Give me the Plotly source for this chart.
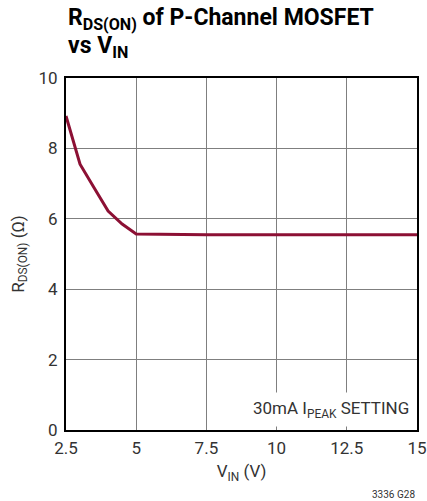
import plotly.graph_objects as go

vin = [2.5, 3.0, 3.5, 4.0, 4.5, 5.0, 7.5, 10.0, 12.5, 15.0]
rds_on = [8.92, 7.55, 6.88, 6.22, 5.85, 5.57, 5.55, 5.55, 5.55, 5.55]
x_ticks = [2.5, 5, 7.5, 10, 12.5, 15]
x_tick_text = ["2.5", "5", "7.5", "10", "12.5", "15"]
y_ticks = [0, 2, 4, 6, 8, 10]

FONT = "Roboto, Liberation Sans, sans-serif"
TXT = "#333333"
PH = 352  # plot height in px

fig = go.Figure()
fig.add_trace(go.Scatter(x=vin, y=rds_on, mode="lines",
                         line=dict(color="#8c1034", width=3), showlegend=False))

fig.update_layout(
    width=427, height=501,
    margin=dict(l=66, r=10, t=78, b=71),
    paper_bgcolor="white", plot_bgcolor="white",
    font=dict(family=FONT, color=TXT, size=17),
    xaxis=dict(range=[2.5, 15], tickvals=x_ticks, ticktext=x_tick_text,
               showgrid=True, gridcolor="#7f7f7f", gridwidth=1,
               showline=True, linecolor="black", linewidth=2, mirror=True,
               ticks="", zeroline=False, ticklabelstandoff=2, automargin=False,
               tickfont=dict(size=17, color=TXT),
               title=dict(text="V<sub>IN</sub> (V)", font=dict(size=17, color=TXT), standoff=8)),
    yaxis=dict(range=[0, 10], tickvals=y_ticks,
               showgrid=True, gridcolor="#7f7f7f", gridwidth=1,
               showline=True, linecolor="black", linewidth=2, mirror=True,
               ticks="", zeroline=False, ticklabelstandoff=3, automargin=False,
               tickfont=dict(size=17, color=TXT),
               title=dict(text="R<sub>DS(ON)</sub> (Ω)", font=dict(size=17, color=TXT), standoff=10)),
    annotations=[
        dict(text="<b>R<sub>DS(ON)</sub> of P-Channel MOSFET</b>",
             xref="paper", yref="paper", x=0, y=1 + (78 - 2) / PH,
             xanchor="left", yanchor="top", align="left", showarrow=False,
             font=dict(family=FONT, size=23, color="black")),
        dict(text="<b>vs V<sub>IN</sub></b>",
             xref="paper", yref="paper", x=0, y=1 + (78 - 30) / PH,
             xanchor="left", yanchor="top", align="left", showarrow=False,
             font=dict(family=FONT, size=23, color="black")),
        dict(text="30mA I<sub>PEAK</sub> SETTING",
             xref="paper", yref="paper", x=1.0, y=0.0, xshift=-2, yshift=3,
             xanchor="right", yanchor="bottom", showarrow=False, borderpad=5,
             bgcolor="white", font=dict(family=FONT, size=17, color=TXT)),
        dict(text="3336 G28", xref="paper", yref="paper",
             x=1.0, y=-(487 - 430) / PH, xanchor="right", yanchor="top",
             showarrow=False, font=dict(family=FONT, size=10, color=TXT)),
    ],
)

fig.write_html("out.html", config={"displayModeBar": False},
               post_script="document.body.style.margin='0';document.body.style.overflow='hidden';")
